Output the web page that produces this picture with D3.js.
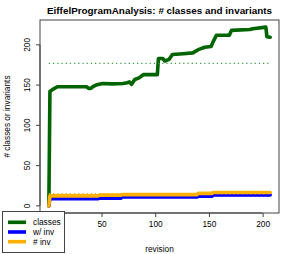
<!DOCTYPE html>
<html>
<head>
<meta charset="utf-8">
<script src="https://cdn.jsdelivr.net/npm/d3@7"></script>
<style>
  body { margin: 0; background: #fff; }
  svg { display: block; font-family: "Liberation Sans", Arial, sans-serif; }
</style>
</head>
<body>
<div id="chart"></div>
<script>
// values
const classRevs = [1, 2, 5, 9, 36, 38, 40, 42, 45, 51, 60, 70, 74, 76, 78, 81, 85, 87, 89, 102, 103, 107, 109, 113, 116, 126, 135, 140, 142, 146, 152, 154, 157, 169, 171, 188, 191, 203, 204, 207];
const classCounts = [0, 142, 145, 148, 148, 146, 146, 148, 150, 152, 151.5, 152, 153, 154, 151, 157, 159, 161, 163, 163, 183, 183, 180, 182, 188, 189, 190, 194, 195, 197, 198, 204, 212, 212, 218, 219, 220, 222, 210, 209.5];

const invRevs = [1, 2, 47, 48, 68, 69, 139, 140, 153, 154, 207];
const withInv = [0, 9, 9, 9.5, 9.5, 11, 11, 12, 12, 13.6, 13.6];
const numInv = [0, 12.4, 12.4, 13.3, 13.3, 14, 14, 15.5, 15.5, 16.6, 16.6];

const refClasses = 177;
const refWithInv = 12.4;
const refNumInv = 15.3;

const legendLabels = ["classes", "w/ inv", "# inv"];
const colors = ["#006400", "#0000FF", "#FFB000"];
const dotColors = ["#3d9a3d", "#0000FF", "#FFB000"];

const width = 294, height = 254;
const margin = {top: 20, right: 15, bottom: 41, left: 40};

const svg = d3.select("#chart").append("svg")
    .attr("width", width)
    .attr("height", height);

// R style 4% padding on both axes
const pad = (lo, hi) => { const r = (hi - lo) * 0.04; return [lo - r, hi + r]; };

const x = d3.scaleLinear()
    .domain(pad(d3.min(classRevs), d3.max(classRevs)))
    .range([margin.left, width - margin.right]);

const y = d3.scaleLinear()
    .domain(pad(0, d3.max(classCounts)))
    .range([height - margin.bottom, margin.top]);

const line = d3.line()
    .x(d => x(d[0]))
    .y(d => y(d[1]));

const series = [
    classRevs.map((r, i) => [r, classCounts[i]]),
    invRevs.map((r, i) => [r, withInv[i]]),
    invRevs.map((r, i) => [r, numInv[i]])
];
const refs = [refClasses, refWithInv, refNumInv];
const xEnds = d3.extent(classRevs);

series.forEach((s, i) => {
    svg.append("path")
        .datum(s)
        .attr("d", line)
        .attr("fill", "none")
        .attr("stroke", colors[i])
        .attr("stroke-width", 3.6)
        .attr("stroke-linejoin", "round")
        .attr("stroke-linecap", "round");

    svg.append("line")
        .attr("x1", x(xEnds[0]))
        .attr("x2", x(xEnds[1]))
        .attr("y1", y(refs[i]))
        .attr("y2", y(refs[i]))
        .attr("stroke", dotColors[i])
        .attr("stroke-width", 1.2)
        .attr("stroke-dasharray", "1.2,3");
});

// plot box
svg.append("rect")
    .attr("x", margin.left)
    .attr("y", margin.top)
    .attr("width", width - margin.left - margin.right)
    .attr("height", height - margin.bottom - margin.top)
    .attr("fill", "none")
    .attr("stroke", "#444")
    .attr("stroke-width", 1);

// x axis (the 0 label sits under the legend in the original)
const xTicks = [0, 50, 100, 150, 200];
const xAxis = svg.append("g")
    .attr("transform", "translate(0," + (height - margin.bottom) + ")")
    .call(d3.axisBottom(x).tickValues(xTicks).tickSize(4).tickPadding(4).tickSizeOuter(0)
        .tickFormat(d => d === 0 ? "" : d));
xAxis.select(".domain")
    .attr("d", "M" + x(xTicks[0]) + ",0H" + x(xTicks[xTicks.length - 1]))
    .attr("stroke", "#444");
xAxis.selectAll(".tick line").attr("stroke", "#444");
xAxis.selectAll(".tick text")
    .style("font-size", "8.3px")
    .attr("fill", "#000")
    .attr("font-family", "Liberation Sans, Arial, sans-serif");

// y axis with rotated labels
const yTicks = [0, 50, 100, 150, 200];
const yAxis = svg.append("g")
    .attr("transform", "translate(" + margin.left + ",0)");
yAxis.append("path")
    .attr("d", "M0," + y(yTicks[0]) + "V" + y(yTicks[yTicks.length - 1]))
    .attr("stroke", "#444");
yAxis.selectAll(".ytick")
    .data(yTicks)
    .join("line")
        .attr("class", "ytick")
        .attr("x1", -4)
        .attr("x2", 0)
        .attr("y1", d => y(d))
        .attr("y2", d => y(d))
        .attr("stroke", "#444");
yAxis.selectAll(".ylab")
    .data(yTicks)
    .join("text")
        .attr("class", "ylab")
        .attr("transform", d => "translate(-10," + y(d) + ") rotate(-90)")
        .attr("text-anchor", "middle")
        .style("font-size", "8.3px")
        .text(d => d);

// titles
svg.append("text")
    .attr("x", (margin.left + width - margin.right) / 2)
    .attr("y", 14)
    .attr("text-anchor", "middle")
    .style("font-size", "9.9px")
    .style("font-weight", "bold")
    .text("EiffelProgramAnalysis: # classes and invariants");

svg.append("text")
    .attr("x", (margin.left + width - margin.right) / 2)
    .attr("y", 252)
    .attr("text-anchor", "middle")
    .style("font-size", "8.3px")
    .text("revision");

svg.append("text")
    .attr("transform", "translate(10," + ((margin.top + height - margin.bottom) / 2) + ") rotate(-90)")
    .attr("text-anchor", "middle")
    .style("font-size", "8.3px")
    .text("# classes or invariants");

// legend
const legend = svg.append("g").attr("transform", "translate(2,211)");
legend.append("rect")
    .attr("x", 0.5)
    .attr("y", 0.5)
    .attr("width", 62)
    .attr("height", 41)
    .attr("fill", "#fff")
    .attr("stroke", "#444");
legendLabels.forEach((lab, i) => {
    const ly = 11.3 + i * 9.7;
    legend.append("line")
        .attr("x1", 6).attr("x2", 24)
        .attr("y1", ly).attr("y2", ly)
        .attr("stroke", colors[i])
        .attr("stroke-width", 3.6);
    legend.append("text")
        .attr("x", 31)
        .attr("y", ly + 3)
        .style("font-size", "8.3px")
        .text(lab);
});
</script>
</body>
</html>
